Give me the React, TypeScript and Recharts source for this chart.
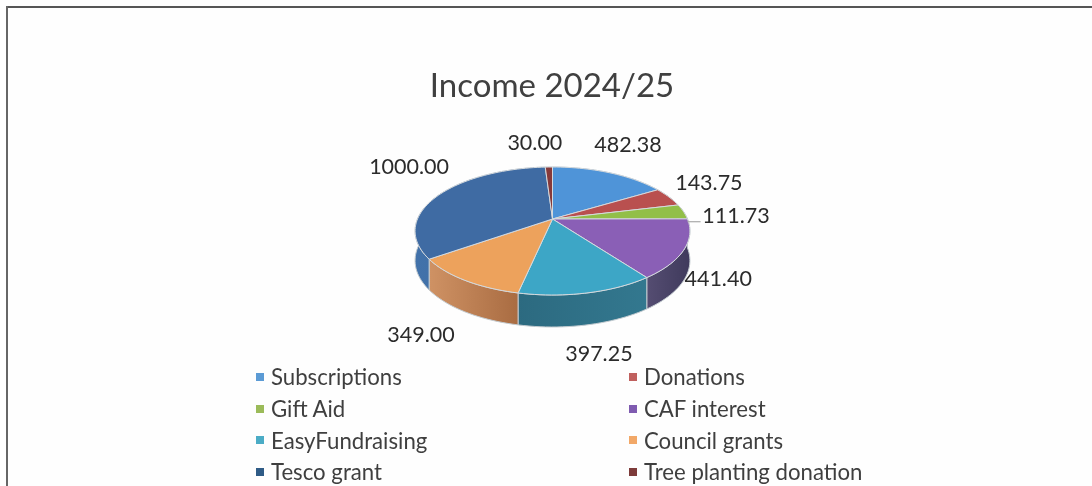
import { PieChart, Pie, Legend } from 'recharts'

const categories = [
  'Subscriptions',
  'Donations',
  'Gift Aid',
  'CAF interest',
  'EasyFundraising',
  'Council grants',
  'Tesco grant',
  'Tree planting donation',
]
const income = [482.38, 143.75, 111.73, 441.4, 397.25, 349.0, 1000.0, 30.0]

const topColors = ['#4f94d8', '#b9504f', '#92bf48', '#8a5fb6', '#3da6c6', '#eda25c', '#3f6ba3', '#86393a']
// left and right end of each slice's side wall
const wallColors = [
  ['#3a6fa4', '#3a6fa4'],
  ['#8a3c3b', '#8a3c3b'],
  ['#6e9036', '#6e9036'],
  ['#554d72', '#3f3a5c'],
  ['#2c6a80', '#33788f'],
  ['#cf9264', '#a96c42'],
  ['#4272aa', '#3a68a0'],
  ['#642b2b', '#642b2b'],
]
const legendColors = ['#5b9bd5', '#c0605e', '#9bbb59', '#7f5bb0', '#4bacc6', '#f2a868', '#2f5b86', '#7d3b3a']

// label nudges from the rim of each slice, px
const labelDx = [18.5, 40, 52.5, 34, 11.6, -43.6, -30.6, -14]
const labelDy = [-29, -15, 3.3, 29, 60, 53.8, -28.5, -25]

const chartData = categories.map((name, i) => ({
  name,
  value: income[i],
  fill: topColors[i],
  idx: i,
}))

const CX = 552.5
const CY = 219
const RADIUS = 135
const TILT = 61.75
const PERSPECTIVE = 0.1875

// recharts angle (deg, counter-clockwise from 3 o'clock) to the tilted rim
function rim(cx: number, cy: number, r: number, angle: number, drop = 0) {
  const rad = (angle * Math.PI) / 180
  const X = Math.cos(rad)
  const Y = Math.sin(rad)
  const w = 1 + PERSPECTIVE * Y
  const depth = drop ? drop - 3 * Y : 0
  return {
    x: cx + (r * X) / w,
    y: cy - ((TILT * r) / RADIUS) * (Y / w) + depth,
  }
}

function arcPoints(cx: number, cy: number, r: number, start: number, end: number, drop = 0) {
  const n = Math.max(2, Math.ceil(Math.abs(end - start) / 2))
  const pts = []
  for (let i = 0; i <= n; i++) {
    pts.push(rim(cx, cy, r, start + ((end - start) * i) / n, drop))
  }
  return pts
}

function toPath(pts: { x: number; y: number }[]) {
  return pts.map((p, i) => `${i ? 'L' : 'M'}${p.x.toFixed(2)} ${p.y.toFixed(2)}`).join(' ')
}

function TopSlice(props: any) {
  const { cx, cy, outerRadius, startAngle, endAngle, fill } = props
  const pts = arcPoints(cx, cy, outerRadius, startAngle, endAngle)
  return <path d={`M${cx} ${cy} ${toPath(pts).replace('M', 'L')} Z`} fill={fill} stroke="#d5dade" strokeWidth={1} />
}

function WallSlice(props: any) {
  const { cx, cy, outerRadius, startAngle, endAngle, idx } = props
  const upper = arcPoints(cx, cy, outerRadius, startAngle, endAngle)
  const lower = arcPoints(cx, cy, outerRadius, startAngle, endAngle, 29).reverse()
  const id = `wall-${idx}`
  return (
    <g>
      <defs>
        <linearGradient id={id} x1="0" y1="0" x2="1" y2="0">
          <stop offset="0%" stopColor={wallColors[idx][0]} />
          <stop offset="100%" stopColor={wallColors[idx][1]} />
        </linearGradient>
      </defs>
      <path d={`${toPath(upper)} ${toPath(lower).replace('M', 'L')} Z`} fill={`url(#${id})`} stroke="#c3cbd0" strokeWidth={1} />
    </g>
  )
}

function renderLabel(props: any) {
  const { cx, cy, outerRadius, midAngle, index, value } = props
  const p = rim(cx, cy, outerRadius, midAngle)
  return (
    <g key={index}>
      {index === 2 && <line x1={p.x + 4} y1={p.y + 10} x2={p.x + 17} y2={p.y + 10} stroke="#a9a9a9" strokeWidth={1.2} />}
      <text
        x={p.x + labelDx[index]}
        y={p.y + labelDy[index]}
        textAnchor="middle"
        dominantBaseline="central"
        fontFamily="Lato"
        fontSize={21.5}
        fill="#2b2b2b"
      >
        {Number(value).toFixed(2)}
      </text>
    </g>
  )
}

function LegendBlock() {
  return (
    <div
      style={{
        display: 'grid',
        gridTemplateColumns: '373px 260px',
        gridAutoRows: '31.7px',
        fontFamily: 'Lato',
        fontSize: 22.2,
        color: '#3f3f3f',
      }}
    >
      {categories.map((name, i) => (
        <div key={name} style={{ display: 'flex', alignItems: 'center', whiteSpace: 'nowrap' }}>
          <span style={{ width: 8, height: 8, marginRight: 7, background: legendColors[i] }} />
          {name}
        </div>
      ))}
    </div>
  )
}

export default function App() {
  return (
    <div
      style={{
        position: 'absolute',
        left: 0,
        top: 0,
        width: 1092,
        height: 486,
        overflow: 'hidden',
        background: '#fefefe',
        filter: 'blur(0.6px)',
      }}
    >
      <div style={{ position: 'absolute', left: 6, top: 6, right: -4, height: 2, background: '#555' }} />
      <div style={{ position: 'absolute', left: 6, top: 6, bottom: -4, width: 2, background: '#666' }} />
      <PieChart width={1092} height={486} margin={{ top: 0, right: 0, bottom: 0, left: 0 }}>
        <text x={552} y={84} textAnchor="middle" dominantBaseline="central" fontFamily="Lato" fontSize={33} fill="#404040">
          Income 2024/25
        </text>
        <Pie
          data={chartData}
          dataKey="value"
          nameKey="name"
          cx={CX}
          cy={CY}
          outerRadius={RADIUS}
          startAngle={90}
          endAngle={-270}
          paddingAngle={0}
          legendType="none"
          shape={WallSlice}
          isAnimationActive={false}
        />
        <Pie
          data={chartData}
          dataKey="value"
          nameKey="name"
          cx={CX}
          cy={CY}
          outerRadius={RADIUS}
          startAngle={90}
          endAngle={-270}
          paddingAngle={0}
          shape={TopSlice}
          label={renderLabel}
          labelLine={false}
          isAnimationActive={false}
        />
        <Legend
          content={() => <LegendBlock />}
          wrapperStyle={{ position: 'absolute', left: 256, top: 361, width: 640, height: 127 }}
        />
      </PieChart>
    </div>
  )
}
